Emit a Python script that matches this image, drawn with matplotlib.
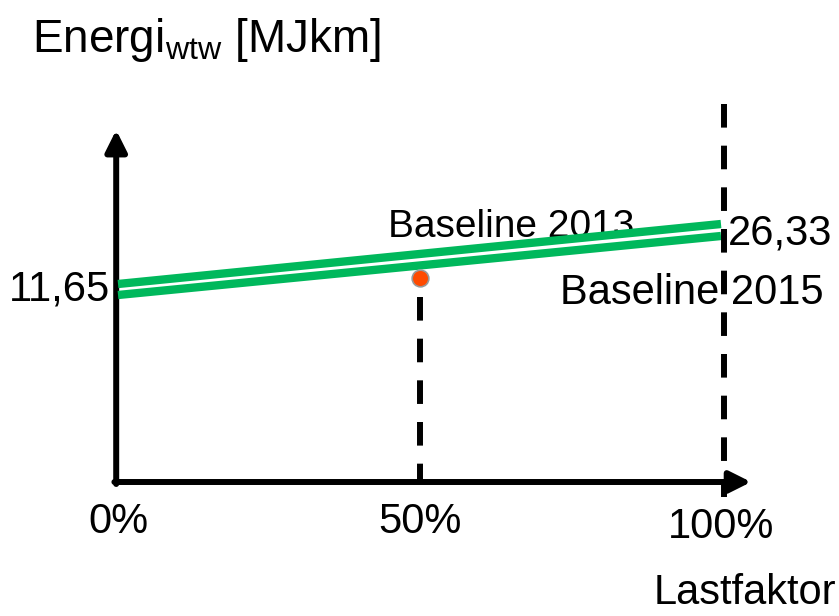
import matplotlib.pyplot as plt

plt.rcParams['font.family'] = ['Liberation Sans', 'DejaVu Sans']
plt.rcParams['mathtext.fontset'] = 'custom'
plt.rcParams['mathtext.rm'] = 'Liberation Sans'
plt.rcParams['mathtext.it'] = 'Liberation Sans:italic'
plt.rcParams['lines.scale_dashes'] = False

# Schematic data (x = load factor in %, y = schematic energy level)
lastfaktor = [0, 100]
baseline_2013 = [198, 258]
baseline_2015 = [187, 246]
punkt_x = [50]
punkt_y = [204]
ticks = [0, 50, 100]
tick_labels = ['0%', '50%', '100%']
start_label = '11,65'
end_label = '26,33'

green = '#00B85C'
fs = 30

fig = plt.figure(figsize=(8.39, 6.16), dpi=100)
ax = fig.add_axes([0, 0, 1, 1])
ax.set_xlim(-19.57, 119.57)
ax.set_ylim(-134, 482)
ax.axis('off')

# axes with arrows
ax.annotate('', xy=(-0.3, 352), xytext=(-0.3, -2),
            arrowprops=dict(arrowstyle='-|>', lw=4.3, color='black', mutation_scale=32,
                            shrinkA=0, shrinkB=0))
ax.annotate('', xy=(105, 0), xytext=(-0.6, 0),
            arrowprops=dict(arrowstyle='-|>', lw=4.3, color='black', mutation_scale=32,
                            shrinkA=0, shrinkB=0))

# dashed guide lines
ax.plot([100.5, 100.5], [378, -15], color='black', lw=4.3, linestyle=(0, (17, 13)), zorder=4)
ax.plot([50, 50], [185, 0], color='black', lw=4.3, linestyle=(0, (17, 13)), zorder=4)

# the two baselines
ax.plot(lastfaktor, baseline_2013, color=green, lw=6, solid_capstyle='butt', zorder=3)
ax.plot(lastfaktor, baseline_2015, color=green, lw=6, solid_capstyle='butt', zorder=3)

ax.plot(punkt_x, punkt_y, 'o', color='#FF4A00', markeredgecolor='#999999',
        markersize=12, markeredgewidth=1.2, zorder=5)

# labels
ax.text(-1.3, 192, start_label, fontsize=fs, ha='right', va='center', zorder=1)
ax.text(101.2, 249, end_label, fontsize=fs, ha='left', va='center', zorder=1)
ax.text(44.8, 255, 'Baseline 2013', fontsize=28, ha='left', va='center', zorder=1)
ax.text(73.3, 189, 'Baseline 2015', fontsize=fs, ha='left', va='center', zorder=1)

for t, lab in zip(ticks, tick_labels):
    yy = -45 if t == 100 else -40
    ax.text(t, yy, lab, fontsize=fs, ha='center', va='center')

ax.text(88.9, -111, 'Lastfaktor', fontsize=fs, ha='left', va='center')
ax.text(-14.3, 430, r'Energi$_{\mathrm{wtw}}$ [MJkm]', fontsize=33, ha='left', va='baseline')

fig.savefig('out.png', dpi=100)
